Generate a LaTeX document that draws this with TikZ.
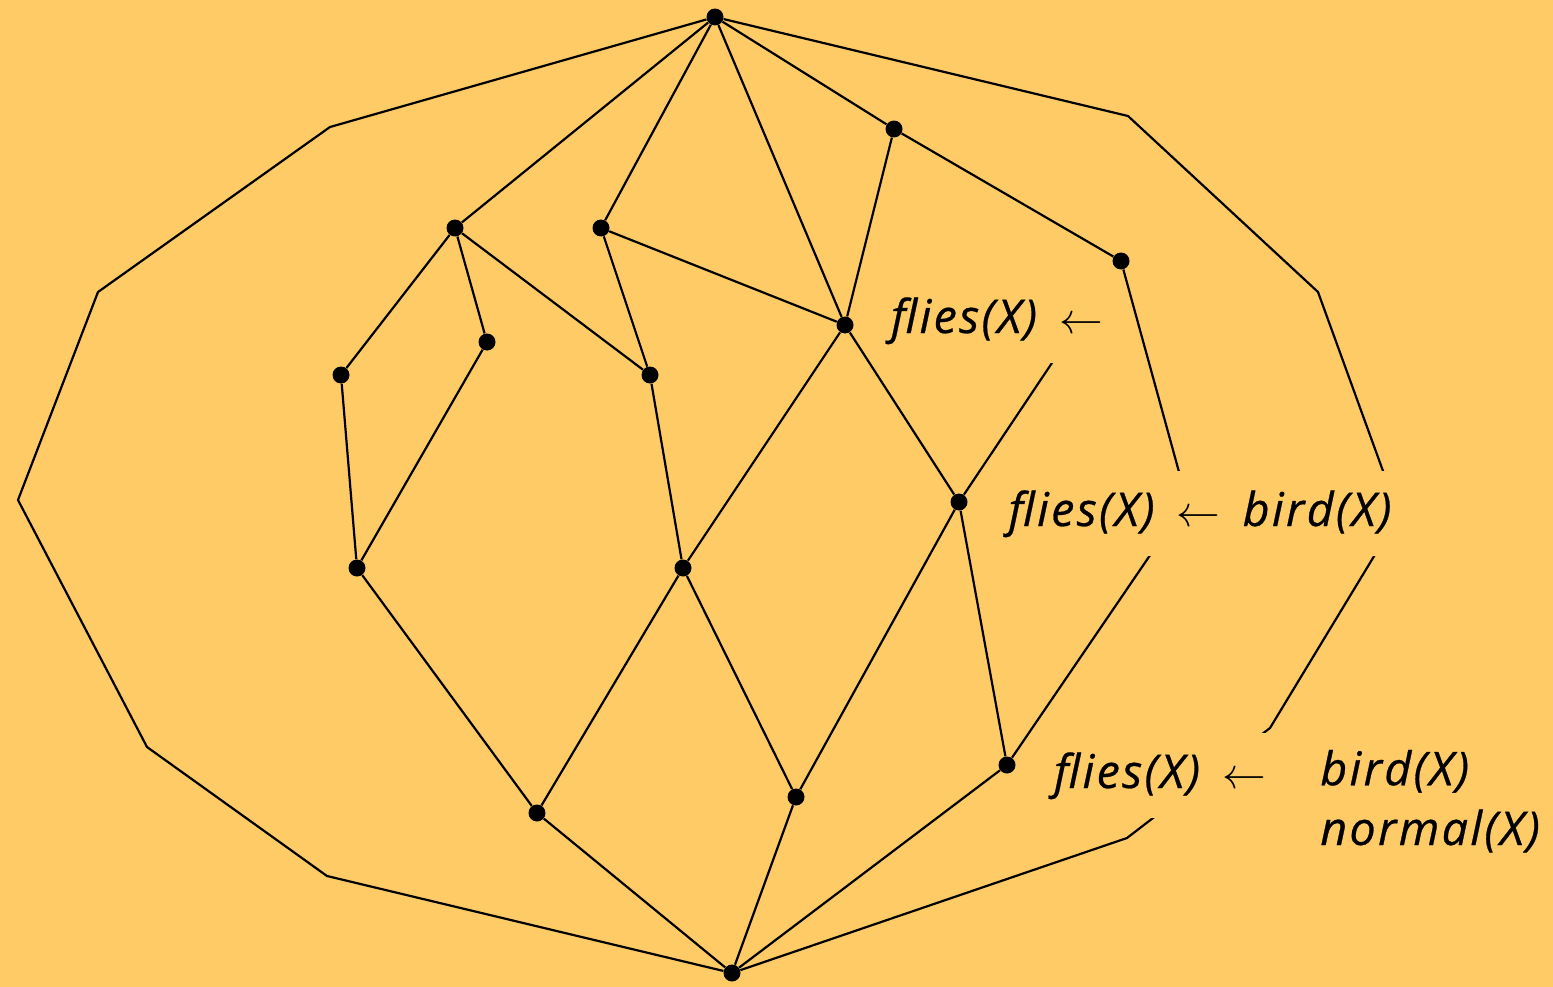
\documentclass[tikz,border=0pt]{standalone}
\usepackage{fontspec}
\usepackage{tikz}
\usetikzlibrary{positioning}
\newfontfamily\rulefont[LetterSpace=5,FakeBold=0.6]{Open Sans}
\definecolor{paperyellow}{RGB}{254,203,102}
\definecolor{inkblack}{RGB}{0,0,0}
\tikzset{
  elem/.style={circle,fill=inkblack,inner sep=0pt,minimum size=0.34cm},
  order/.style={draw=inkblack,line width=1.25pt,line join=round},
  rulebox/.style={fill=paperyellow,inner xsep=0.25cm,inner ysep=0.38cm,
    font=\rulefont\itshape\fontsize{26.5}{34}\selectfont},
  rulebody/.style={inner sep=0pt,align=left,
    font=\rulefont\itshape\fontsize{26.5}{34}\selectfont}
}

\begin{document}
\begin{tikzpicture}[x=0.02cm,y=-0.02cm]
  \fill[paperyellow] (0,0) rectangle (1553,987);
  \useasboundingbox (0,0) rectangle (1553,987);
  % elements of the lattice
  \node[elem] (top) at (715,17) {};
  \node[elem] (bot) at (732,973) {};
  \node[elem] (e1) at (455,228) {};
  \node[elem] (e2) at (601,228) {};
  \node[elem] (e3) at (894,129) {};
  \node[elem] (e4) at (1121,261) {};
  \node[elem] (e5) at (845,325) {};
  \node[elem] (e6) at (487,342) {};
  \node[elem] (e7) at (341,375) {};
  \node[elem] (e8) at (650,375) {};
  \node[elem] (e9) at (959,502) {};
  \node[elem] (e10) at (357,568) {};
  \node[elem] (e11) at (683,568) {};
  \node[elem] (e12) at (1007,765) {};
  \node[elem] (e13) at (537,813) {};
  \node[elem] (e14) at (796,797) {};
  % points hidden under the programs
  \coordinate (h1) at (1082,318);
  \coordinate (h2) at (1187,501);
  % corners of the outer hull
  \coordinate (lh1) at (330,127);
  \coordinate (lh2) at (98,292);
  \coordinate (lh3) at (18,500);
  \coordinate (lh4) at (147,747);
  \coordinate (lh5) at (327,876);
  \coordinate (rh1) at (1128,116);
  \coordinate (rh2) at (1318,292);
  \coordinate (rh3) at (1399,515);
  \coordinate (rh4) at (1270,728);
  \coordinate (rh5) at (1127,838);
  % outer hull
  \draw[order] (top)--(lh1)--(lh2)--(lh3)--(lh4)--(lh5)--(bot);
  \draw[order] (top)--(rh1)--(rh2)--(rh3)--(rh4)--(rh5)--(bot);
  % order
  \draw[order] (top)--(e1);
  \draw[order] (top)--(e2);
  \draw[order] (top)--(e5);
  \draw[order] (top)--(e3);
  \draw[order] (e1)--(e7);
  \draw[order] (e1)--(e6);
  \draw[order] (e1)--(e8);
  \draw[order] (e2)--(e5);
  \draw[order] (e2)--(e8);
  \draw[order] (e3)--(e5);
  \draw[order] (e3)--(e4);
  \draw[order] (e7)--(e10);
  \draw[order] (e6)--(e10);
  \draw[order] (e8)--(e11);
  \draw[order] (e5)--(e11);
  \draw[order] (e5)--(e9);
  \draw[order] (e10)--(e13);
  \draw[order] (e11)--(e13);
  \draw[order] (e11)--(e14);
  \draw[order] (e9)--(e14);
  \draw[order] (e9)--(e12);
  \draw[order] (e13)--(bot);
  \draw[order] (e14)--(bot);
  \draw[order] (e12)--(bot);
  \draw[order] (e9)--(h1);
  \draw[order] (e4)--(h2)--(e12);
  % programs
  \node[rulebox,anchor=base] (prog1) at (997,333) {flies(X)\, $\leftarrow$};
  \node[rulebox,anchor=base] (prog2) at (1200,526) {flies(X)\, $\leftarrow$\, bird(X)};
  \node[rulebox,anchor=base] (prog3) at (1160,788) {flies(X)\, $\leftarrow$};
  \node[rulebody,anchor=base west] (prog3body) at (1320,845) {bird(X)\\normal(X)};
\end{tikzpicture}
\end{document}
